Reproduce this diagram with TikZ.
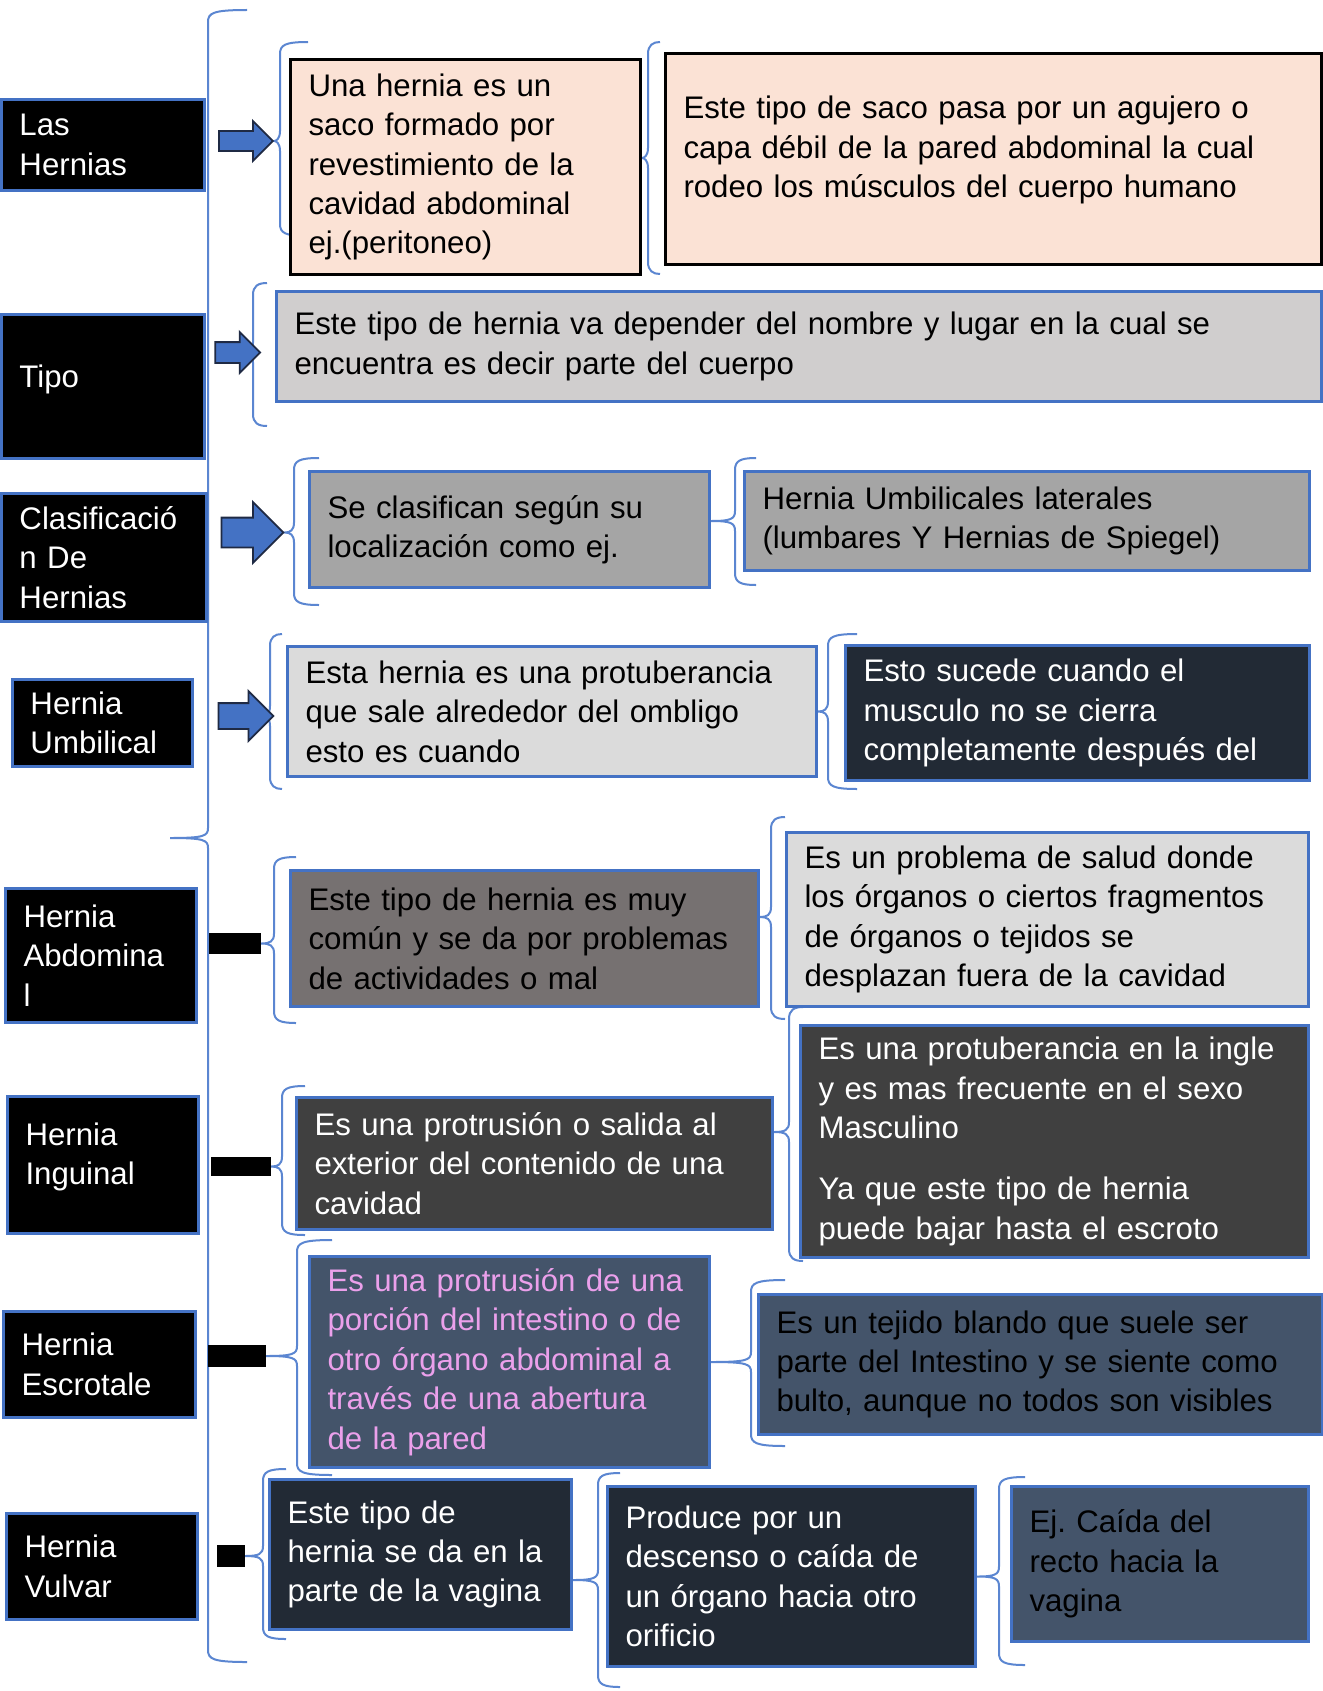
\documentclass[tikz,border=0pt]{standalone}
\usepackage{fontspec}
\setmainfont{Liberation Sans}
\frenchspacing
\usetikzlibrary{shapes.arrows,calc,backgrounds}
\definecolor{ocean}{HTML}{4472C4}
\definecolor{bracecol}{HTML}{5B86D1}
\definecolor{arrowline}{HTML}{1F2A44}
\definecolor{peach}{HTML}{FBE2D5}
\definecolor{greyA}{HTML}{D0CECE}
\definecolor{greyB}{HTML}{A5A5A5}
\definecolor{greyC}{HTML}{DBDBDB}
\definecolor{darknavy}{HTML}{222A35}
\definecolor{taupe}{HTML}{767171}
\definecolor{charcoal}{HTML}{404040}
\definecolor{slate}{HTML}{44546A}
\definecolor{orchid}{HTML}{EBA0EB}
\pgfdeclarelayer{back}
\pgfsetlayers{back,background,main}

% curly brace: [curl] {tip} {x of spine} {top y} {bottom y}
\newcommand{\curlyb}[5][28]{%
  \draw[brace] let \p1=#2 in
    (#3+#1,#4) .. controls (#3+5,#4) and (#3,#4-3) .. (#3,#4-12)
    -- (#3,\y1+10) .. controls (#3,\y1+2) and (#3-4,\y1) .. (\p1)
    .. controls (#3-4,\y1) and (#3,\y1-2) .. (#3,\y1-10)
    -- (#3,#5+12) .. controls (#3,#5+3) and (#3+5,#5) .. (#3+#1,#5);}

\begin{document}
\begin{tikzpicture}[x=1pt,y=1pt]
  \tikzset{infobox/.style={draw=ocean,line width=3pt,anchor=north west,
      inner xsep=18pt,inner ysep=0pt,align=left,
      font=\fontsize{31.2}{39.4}\selectfont},
    leftbox/.style={infobox,fill=black,text=white},
    dims/.style n args={3}{minimum width=#1pt,minimum height=#2pt,text width=#3pt},
    lift/.style={execute at end node={\\[#1]\mbox{}}},
    bluearrow/.style={single arrow,draw=arrowline,fill=ocean,line width=1.8pt,
      inner xsep=0pt,single arrow head indent=0pt},
    bar/.style={fill=black,inner sep=0pt},
    brace/.style={draw=bracecol,line width=2pt}}

  \begin{pgfonlayer}{back}
    \fill[white] (0,0) rectangle (1322,-1691);
  \end{pgfonlayer}
  \useasboundingbox (0,0) rectangle (1322,-1691);

  % left column
  \node[leftbox,dims={203}{91}{167}] (las) at (0,-98) {Las\\Hernias};
  \node[leftbox,dims={203}{144}{167},lift=-19.4pt] (tipo) at (0,-313) {Tipo};
  \node[leftbox,dims={205}{128}{169}] (clas) at (0,-492) {Clasificació\\n De\\Hernias};
  \node[leftbox,dims={180}{87}{144}] (umb) at (11,-678) {Hernia\\Umbilical};
  \node[leftbox,dims={191}{134}{155}] (abd) at (4,-887) {Hernia\\Abdomina\\l};
  \node[leftbox,dims={191}{137}{155},lift=-16.8pt] (ing) at (6,-1095) {Hernia\\Inguinal};
  \node[leftbox,dims={192}{106}{156}] (esc) at (2,-1310) {Hernia\\Escrotale};
  \node[leftbox,dims={191}{106}{155}] (vul) at (5,-1512) {Hernia\\Vulvar};

  % arrows and bars
  \node[bluearrow,minimum height=54pt,inner ysep=9pt,single arrow head extend=10pt] (arr1) at (241,-141) {};
  \node[bluearrow,minimum height=45pt,inner ysep=9.5pt,single arrow head extend=10pt] (arr2) at (232.5,-352.5) {};
  \node[bluearrow,minimum height=62pt,inner ysep=14pt,single arrow head extend=15.5pt] (arr3) at (245,-532.5) {};
  \node[bluearrow,minimum height=55pt,inner ysep=12pt,single arrow head extend=12pt] (arr4) at (239.5,-716) {};
  \node[bar,minimum width=52pt,minimum height=21pt] (bar5) at (235,-943.5) {};
  \node[bar,minimum width=60pt,minimum height=19pt] (bar6) at (241,-1166.5) {};
  \node[bar,minimum width=58pt,minimum height=22pt] (bar7) at (237,-1356) {};
  \node[bar,minimum width=28pt,minimum height=22pt] (bar8) at (231,-1556) {};

  % content boxes
  \node[infobox,draw=black,fill=peach,dims={350}{215}{314}] (b1a) at (289,-58)
    {Una hernia es un\\saco formado por\\revestimiento de la\\cavidad abdominal\\ej.(peritoneo)};
  \node[infobox,draw=black,fill=peach,dims={656}{211}{620},lift=-14.8pt] (b1b) at (664,-52)
    {Este tipo de saco pasa por un agujero o\\capa débil de la pared abdominal la cual\\rodeo los músculos del cuerpo humano};
  \node[infobox,fill=greyA,dims={1045}{110}{1009}] (b2) at (275,-290)
    {Este tipo de hernia va depender del nombre y lugar en la cual se\\encuentra es decir parte del cuerpo};
  \node[infobox,fill=greyB,dims={400}{116}{364}] (b3a) at (308,-470)
    {Se clasifican según su\\localización como ej.};
  \node[infobox,fill=greyB,dims={565}{99}{529}] (b3b) at (743,-470)
    {Hernia Umbilicales laterales\\(lumbares Y Hernias de Spiegel)};
  \node[infobox,fill=greyC,dims={529}{130}{493}] (b4a) at (286,-645)
    {Esta hernia es una protuberancia\\que sale alrededor del ombligo\\esto es cuando};
  \node[infobox,fill=darknavy,text=white,dims={464}{135}{428}] (b4b) at (844,-644)
    {Esto sucede cuando el\\musculo no se cierra\\completamente después del};
  \node[infobox,fill=taupe,dims={468}{136}{432}] (b5a) at (289,-869)
    {Este tipo de hernia es muy\\común y se da por problemas\\de actividades o mal};
  \node[infobox,fill=greyC,dims={522}{174}{486}] (b5b) at (785,-831)
    {Es un problema de salud donde\\los órganos o ciertos fragmentos\\de órganos o tejidos se\\desplazan fuera de la cavidad};
  \node[infobox,fill=charcoal,text=white,dims={476}{132}{440}] (b6a) at (295,-1096)
    {Es una protrusión o salida al\\exterior del contenido de una\\cavidad};
  \node[infobox,fill=charcoal,text=white,dims={508}{232}{472}] (b6b) at (799,-1024)
    {Es una protuberancia en la ingle\\y es mas frecuente en el sexo\\Masculino\\[22pt]Ya que este tipo de hernia\\puede bajar hasta el escroto};
  \node[infobox,fill=slate,text=orchid,dims={400}{211}{364}] (b7a) at (308,-1255)
    {Es una protrusión de una\\porción del intestino o de\\otro órgano abdominal a\\través de una abertura\\de la pared};
  \node[infobox,fill=slate,dims={564}{140}{528}] (b7b) at (757,-1293)
    {Es un tejido blando que suele ser\\parte del Intestino y se siente como\\bulto, aunque no todos son visibles};
  \node[infobox,fill=darknavy,text=white,dims={302}{150}{266}] (b8a) at (268,-1478)
    {Este tipo de\\hernia se da en la\\parte de la vagina};
  \node[infobox,fill=darknavy,text=white,dims={368}{180}{332}] (b8b) at (606,-1485)
    {Produce por un\\descenso o caída de\\un órgano hacia otro\\orificio};
  \node[infobox,fill=slate,dims={297}{155}{261}] (b8c) at (1010,-1485)
    {Ej. Caída del\\recto hacia la\\vagina};

  % braces
  \coordinate (bigtip) at (170,-838);
  \begin{pgfonlayer}{background}
    \curlyb[39]{(bigtip)}{208}{-10}{-1662}
    \curlyb{(arr1.east)}{280}{-42}{-236}
    \curlyb[12]{(b1a.east |- 0,-158)}{648}{-42}{-274}
    \curlyb[14]{([xshift=-8pt]arr2.east)}{253}{-283}{-426}
    \curlyb[25]{(arr3.east)}{294}{-458}{-605}
    \curlyb[21]{(b3a.east |- 0,-521)}{735}{-458}{-585}
    \curlyb[12]{([xshift=-8pt]arr4.east)}{270}{-634}{-789}
    \curlyb[29]{(b4a.east)}{828}{-634}{-789}
    \curlyb[22]{(bar5.east)}{274}{-857}{-1023}
    \curlyb[14]{(b5a.east |- 0,-917)}{771}{-817}{-1019}
    \curlyb[23]{(bar6.east)}{282}{-1086}{-1235}
    \curlyb[14]{(b6a.east |- 0,-1132)}{789}{-1007}{-1261}
    \curlyb[35]{(bar7.east)}{297}{-1240}{-1475}
    \curlyb[34]{(b7a.east)}{751}{-1280}{-1446}
    \curlyb[23]{(bar8.east)}{263}{-1469}{-1639}
    \curlyb[22]{(b8a.east |- 0,-1580)}{598}{-1473}{-1687}
    \curlyb[26]{(b8b.east)}{999}{-1477}{-1665}
  \end{pgfonlayer}
\end{tikzpicture}
\end{document}
